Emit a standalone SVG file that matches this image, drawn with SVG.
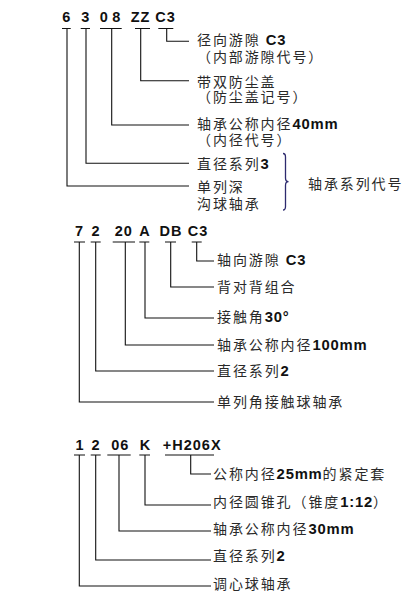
<svg xmlns="http://www.w3.org/2000/svg" width="408" height="609" viewBox="0 0 408 609">
<style>
.h{font-family:"Liberation Sans",Arial,sans-serif;font-weight:bold;font-size:14.5px;fill:#111;text-anchor:middle;letter-spacing:1px}
.t{font-family:"Noto Sans CJK SC","Noto Sans",sans-serif;font-size:14px;fill:#2a2a2a;letter-spacing:1.9px}
.b{font-family:"Liberation Sans",Arial,sans-serif;font-weight:bold;font-size:14.8px;fill:#111;letter-spacing:0.8px}
.c{fill:none;stroke:#111;stroke-width:1.1}
.br{fill:none;stroke:#2d2a6e;stroke-width:1.3}
</style>
<rect width="408" height="609" fill="#fff"/>
<g id="connectors">
<path class="c" d="M62,28.5H70.7M80.7,28.5H90M100,28.5H121.7M135,28.5H150M158.3,28.5H173.3"/>
<path class="c" d="M166.7,28.5V41.3H189"/>
<path class="c" d="M140.7,28.5V80.7H189"/>
<path class="c" d="M111.7,28.5V125H189"/>
<path class="c" d="M86,28.5V163.3H189"/>
<path class="c" d="M67,28.5V186H189"/>
<path class="c" d="M74,242H85M90.7,242H100.7M112.7,242H135M139.3,242H149.3M165,242H176M191.7,242H201.7"/>
<path class="c" d="M196.7,242V261H214"/>
<path class="c" d="M170.7,242V287H214"/>
<path class="c" d="M145,242V318H214"/>
<path class="c" d="M125.3,242V345H214"/>
<path class="c" d="M95.7,242V371H214"/>
<path class="c" d="M79.3,242V402H214"/>
<path class="c" d="M74,455H85M90.7,455H100.7M107.3,455H130.7M139.3,455H150M165,455H214"/>
<path class="c" d="M190.7,455V474H211"/>
<path class="c" d="M145,455V505H211"/>
<path class="c" d="M119,455V531H211"/>
<path class="c" d="M95.7,455V560H211"/>
<path class="c" d="M79.3,455V586H211"/>
<path id="brace" class="br" d="M283,153.5Q285.5,153.5 285.5,157L285.5,178Q285.5,181.7 288.5,181.7Q285.5,181.7 285.5,185.5L285.5,206.5Q285.5,210 283,210"/>
</g>
<g id="code1">
<text class="h" x="66.7" y="22">6</text>
<text class="h" x="85.8" y="22">3</text>
<text class="h" x="104.2" y="22">0</text>
<text class="h" x="116.8" y="22">8</text>
<text class="h" x="140.5" y="22">ZZ</text>
<text class="h" x="165.5" y="22">C3</text>
</g>
<g id="n1-c3"><text class="t" x="197" y="45">径向游隙 <tspan class="b">C3</tspan><tspan x="197" y="62">（内部游隙代号）</tspan></text></g>
<g id="n1-zz"><text class="t" x="197" y="87">带双防尘盖<tspan x="197" y="102">（防尘盖记号）</tspan></text></g>
<g id="n1-08"><text class="t" x="197" y="128.5">轴承公称内径<tspan class="b">40mm</tspan><tspan x="197" y="144.5">（内径代号）</tspan></text></g>
<g id="n1-3"><text class="t" x="197" y="169">直径系列<tspan class="b">3</tspan></text></g>
<g id="n1-6"><text class="t" x="197" y="191.5">单列深<tspan x="197" y="208.5">沟球轴承</tspan></text></g>
<g id="n1-series"><text class="t" x="308" y="189">轴承系列代号</text></g>

<g id="code2">
<text class="h" x="79.5" y="236">7</text>
<text class="h" x="96" y="236">2</text>
<text class="h" x="123.8" y="236">20</text>
<text class="h" x="145" y="236">A</text>
<text class="h" x="171" y="236">DB</text>
<text class="h" x="198" y="236">C3</text>
</g>
<g id="n2-c3"><text class="t" x="217" y="265">轴向游隙 <tspan class="b">C3</tspan></text></g>
<g id="n2-db"><text class="t" x="217" y="292">背对背组合</text></g>
<g id="n2-a"><text class="t" x="217" y="322">接触角<tspan class="b">30°</tspan></text></g>
<g id="n2-20"><text class="t" x="217" y="350">轴承公称内径<tspan class="b">100mm</tspan></text></g>
<g id="n2-2"><text class="t" x="217" y="376">直径系列<tspan class="b">2</tspan></text></g>
<g id="n2-7"><text class="t" x="217" y="407">单列角接触球轴承</text></g>

<g id="code3">
<text class="h" x="80" y="450">1</text>
<text class="h" x="96" y="450">2</text>
<text class="h" x="120.2" y="450">06</text>
<text class="h" x="145.5" y="450">K</text>
<text class="h" x="192.2" y="450">+H206X</text>
</g>
<g id="n3-h"><text class="t" x="213" y="478.5">公称内径<tspan class="b">25mm</tspan>的紧定套</text></g>
<g id="n3-k"><text class="t" x="213" y="507">内径圆锥孔（锥度<tspan class="b">1:12</tspan>）</text></g>
<g id="n3-06"><text class="t" x="213" y="533.5">轴承公称内径<tspan class="b">30mm</tspan></text></g>
<g id="n3-2"><text class="t" x="213" y="561">直径系列<tspan class="b">2</tspan></text></g>
<g id="n3-1"><text class="t" x="213" y="588.5">调心球轴承</text></g>
</svg>
